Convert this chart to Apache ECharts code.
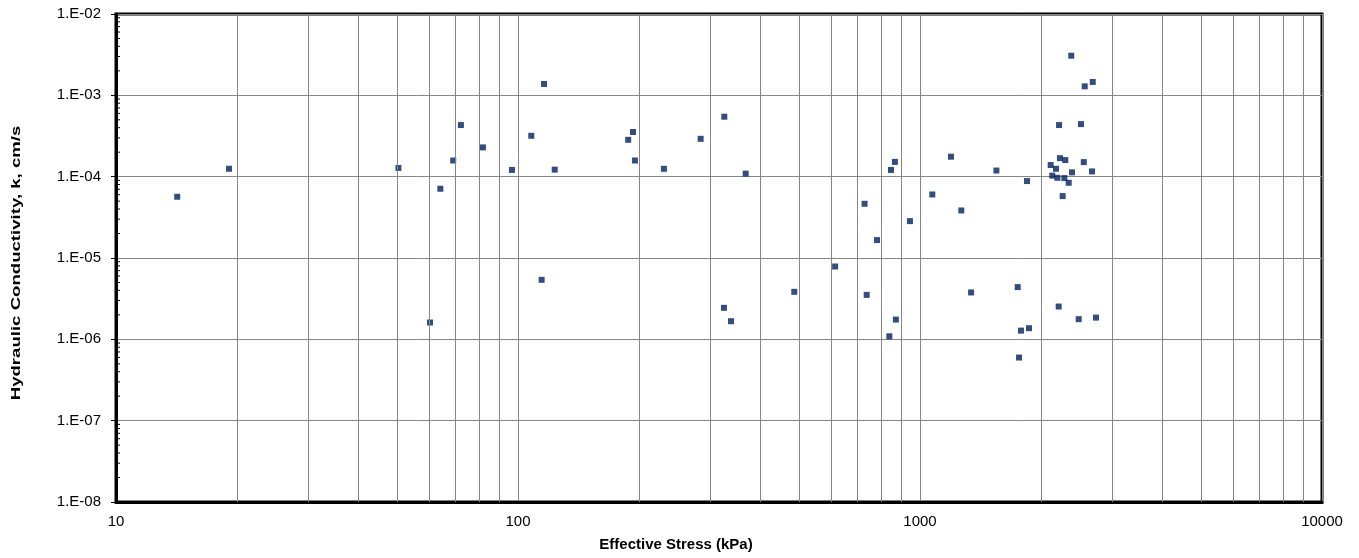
<!DOCTYPE html>
<html>
<head>
<meta charset="utf-8">
<script src="https://cdn.jsdelivr.net/npm/echarts@6/dist/echarts.min.js"></script>
<style>
  html, body { margin: 0; padding: 0; background: #fff; }
  #chart { width: 1359px; height: 558px; }
</style>
</head>
<body>
<div id="chart"></div>
<script>
  // effective stress (kPa) and hydraulic conductivity (cm/s)
  var stress = [
    14.2, 19.1, 50.4, 60.4, 64.1, 69.0, 72.1, 81.8, 96.6, 107.9, 116.1, 114.5,
    123.4, 188, 193.2, 195.4, 230.7, 284.7, 326, 368.5, 325.3, 338.7,
    486.7, 615, 728, 781.6, 736.9, 839, 871, 847, 866,
    1073, 1194, 944, 1267, 1340, 1549, 1846, 1750, 1783, 1867, 1763,
    2378, 2569, 2690, 2218, 2514, 2229, 2298, 2555, 2114, 2179, 2388, 2679,
    2133, 2197, 2286, 2344, 2264, 2213, 2482, 2740
  ];
  var conductivity = [
    5.66e-5, 1.25e-4, 1.28e-4, 1.61e-6, 7.1e-5, 1.58e-4, 4.31e-4, 2.29e-4, 1.21e-4, 3.18e-4, 1.38e-3, 5.39e-6,
    1.22e-4, 2.84e-4, 3.54e-4, 1.58e-4, 1.25e-4, 2.92e-4, 5.46e-4, 1.09e-4, 2.44e-6, 1.67e-6,
    3.84e-6, 7.86e-6, 4.64e-5, 1.66e-5, 3.52e-6, 1.09e-6, 1.75e-6, 1.21e-4, 1.52e-4,
    6.04e-5, 1.76e-4, 2.84e-5, 3.84e-5, 3.77e-6, 1.19e-4, 8.83e-5, 4.39e-6, 1.28e-6, 1.37e-6, 5.97e-7,
    3.07e-3, 1.29e-3, 1.46e-3, 4.31e-4, 4.43e-4, 1.69e-4, 1.60e-4, 1.51e-4, 1.39e-4, 1.25e-4, 1.13e-4, 1.16e-4,
    1.03e-4, 9.69e-5, 9.61e-5, 8.41e-5, 5.77e-5, 2.53e-6, 1.77e-6, 1.85e-6
  ];

  // axis ranges and minor (log) divisions
  var xDecades = [10, 100, 1000];
  var yDecades = [1e-8, 1e-7, 1e-6, 1e-5, 1e-4, 1e-3];
  var minorSteps = [2, 3, 4, 5, 6, 7, 8, 9];

  var xTitle = 'Effective Stress (kPa)'
    , yTitle = 'Hydraulic Conductivity, k, cm/s';

  var FONT = '"Liberation Sans", Arial, sans-serif'
    , GRID_COLOR = '#868686'
    , MARK_COLOR = '#00205e';

  var points = stress.map(function (s, i) { return [s, conductivity[i]]; });

  var xMinor = [];
  xDecades.forEach(function (d) {
    minorSteps.forEach(function (m) { xMinor.push({ xAxis: d * m }); });
  });

  var yMinor = [];
  yDecades.forEach(function (d) {
    minorSteps.forEach(function (m) { yMinor.push([10, d * m]); });
  });

  function expLabel(v) {
    var e = Math.round(Math.log10(v))
      , sign = e < 0 ? '-' : '+'
      , abs = Math.abs(e);
    return '1.E' + sign + (abs < 10 ? '0' : '') + abs;
  }

  var chart = echarts.init(document.getElementById('chart'), null, { renderer: 'canvas' });

  chart.setOption({
    animation: false,
    backgroundColor: '#fff',
    textStyle: { fontFamily: FONT },
    grid: {
      left: 116, top: 14, right: 37, bottom: 56,
      show: true, borderColor: '#000', borderWidth: 3
    },
    // axis titles as graphic text so the stretched look of the original can be kept
    graphic: [
      {
        type: 'text', x: 676, y: 545, silent: true,
        style: {
          text: xTitle, font: 'bold 15px ' + FONT, fill: '#000',
          align: 'center', verticalAlign: 'middle'
        }
      },
      {
        type: 'text', x: 17, y: 263, rotation: Math.PI / 2, scaleX: 1.55, silent: true,
        style: {
          text: yTitle, font: 'bold 12px ' + FONT, fill: '#000',
          align: 'center', verticalAlign: 'middle'
        }
      }
    ],
    xAxis: {
      type: 'log', logBase: 10, min: 10, max: 10000,
      axisLine: { show: true, lineStyle: { color: '#000', width: 3 } },
      axisTick: { show: false },
      axisLabel: {
        fontFamily: FONT, fontSize: 15, color: '#000', margin: 12,
        formatter: function (v) { return String(Math.round(v)); }
      },
      splitLine: { show: true, lineStyle: { color: GRID_COLOR, width: 1 } }
    },
    yAxis: {
      type: 'log', logBase: 10, min: 1e-8, max: 1e-2,
      axisLine: { show: true, lineStyle: { color: '#000', width: 3 } },
      axisTick: { show: true, length: 5, lineStyle: { color: '#000', width: 1 } },
      axisLabel: {
        fontFamily: FONT, fontSize: 15, color: '#000', margin: 15,
        formatter: expLabel
      },
      splitLine: { show: true, lineStyle: { color: GRID_COLOR, width: 1 } }
    },
    series: [
      {
        // minor y ticks on the inside of the left axis
        type: 'custom',
        silent: true,
        z: 1,
        data: yMinor,
        renderItem: function (params, api) {
          var p = api.coord([api.value(0), api.value(1)]);
          return {
            type: 'line',
            shape: { x1: p[0], y1: p[1], x2: p[0] + 4, y2: p[1] },
            style: { stroke: '#000', lineWidth: 1 }
          };
        }
      },
      {
        type: 'scatter',
        symbol: 'rect',
        symbolSize: 6,
        z: 3,
        itemStyle: { color: MARK_COLOR },
        data: points,
        markLine: {
          silent: true,
          symbol: 'none',
          animation: false,
          label: { show: false },
          lineStyle: { color: GRID_COLOR, width: 1, type: 'solid' },
          emphasis: { disabled: true },
          data: xMinor
        }
      }
    ]
  });
</script>
</body>
</html>
